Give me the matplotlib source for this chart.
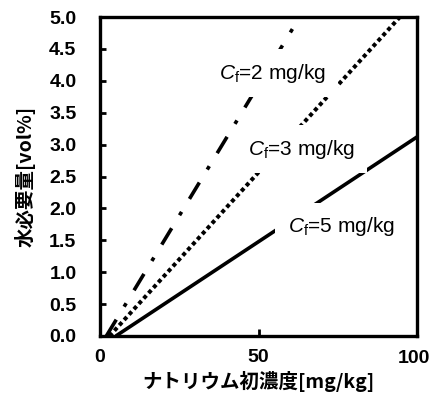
import matplotlib
matplotlib.use("Agg")
import matplotlib.pyplot as plt

# Data (straight lines: start and end points)
cf_labels = ["2", "3", "5"]
x_cf2 = [2, 63]
y_cf2 = [0.0, 5.0]
x_cf3 = [3, 94.6]
y_cf3 = [0.0, 5.0]
x_cf5 = [5, 100]
y_cf5 = [0.0, 3.12]
xticks = [0, 50, 100]
yticks = [0.0, 0.5, 1.0, 1.5, 2.0, 2.5, 3.0, 3.5, 4.0, 4.5, 5.0]

plt.rcParams['mathtext.fontset'] = 'custom'
plt.rcParams['mathtext.rm'] = 'Liberation Sans'
plt.rcParams['mathtext.it'] = 'Liberation Sans:italic'

fig = plt.figure(figsize=(4.30, 3.97), dpi=100)
ax = fig.add_axes([100/430, 1-336/397, 317/430, 319/397])

lw = 2.6
ax.plot(x_cf2, y_cf2, color='black', lw=lw, linestyle=(0, (5.3, 4.2, 1.1, 4.2)),
        dash_capstyle='butt', solid_capstyle='butt')
ax.plot(x_cf3, y_cf3, color='black', lw=2.9, linestyle=(0, (1.0, 0.8)),
        dash_capstyle='butt')
ax.plot(x_cf5, y_cf5, color='black', lw=lw, solid_capstyle='butt')

ax.set_xlim(0, 100)
ax.set_ylim(0, 5.0)
ax.set_xticks(xticks)
ax.set_yticks(yticks)
ax.set_yticklabels([f"{v:.1f}" for v in yticks])
# last x tick label drawn separately so it stays inside the picture
ax.set_xticklabels([str(v) for v in xticks[:-1]] + [""])
tick_font = dict(family='Liberation Sans', fontweight='bold', fontsize=14)
for lab in ax.get_xticklabels() + ax.get_yticklabels():
    lab.set_fontfamily(tick_font['family'])
    lab.set_fontweight(tick_font['fontweight'])
    lab.set_fontsize(tick_font['fontsize'])
ax.annotate(str(xticks[-1]), xy=(xticks[-1], 0), xycoords='data',
            xytext=(-2.5, -10), textcoords='offset points', ha='center', va='top',
            annotation_clip=False, **tick_font)
ax.tick_params(axis='y', direction='in', length=4, width=2, pad=17)
ax.tick_params(axis='x', direction='in', length=5, width=2, pad=9)
for s in ax.spines.values():
    s.set_linewidth(2.4)

fs_ann = 15
box = dict(facecolor='white', edgecolor='none', pad=9)
ax.text(37.5, 4.03, r"$\mathit{C}_{\mathrm{f}}$=" + cf_labels[0] + " mg/kg", fontsize=fs_ann,
        family='Liberation Sans', va='baseline', ha='left', bbox=box)
ax.text(46.7, 2.84, r"$\mathit{C}_{\mathrm{f}}$=" + cf_labels[1] + " mg/kg", fontsize=fs_ann,
        family='Liberation Sans', va='baseline', ha='left', bbox=box)
ax.text(59.3, 1.63, r"$\mathit{C}_{\mathrm{f}}$=" + cf_labels[2] + " mg/kg", fontsize=fs_ann,
        family='Liberation Sans', va='baseline', ha='left', bbox=box)

ax.set_xlabel("ナトリウム初濃度[mg/kg]", family=['Noto Sans CJK JP', 'DejaVu Sans'],
              fontweight='bold', fontsize=14, labelpad=4)
ax.set_ylabel("水必要量[vol%]", family=['Noto Sans CJK JP', 'DejaVu Sans'],
              fontweight='bold', fontsize=14, labelpad=10)

fig.savefig("out.png", dpi=100)
